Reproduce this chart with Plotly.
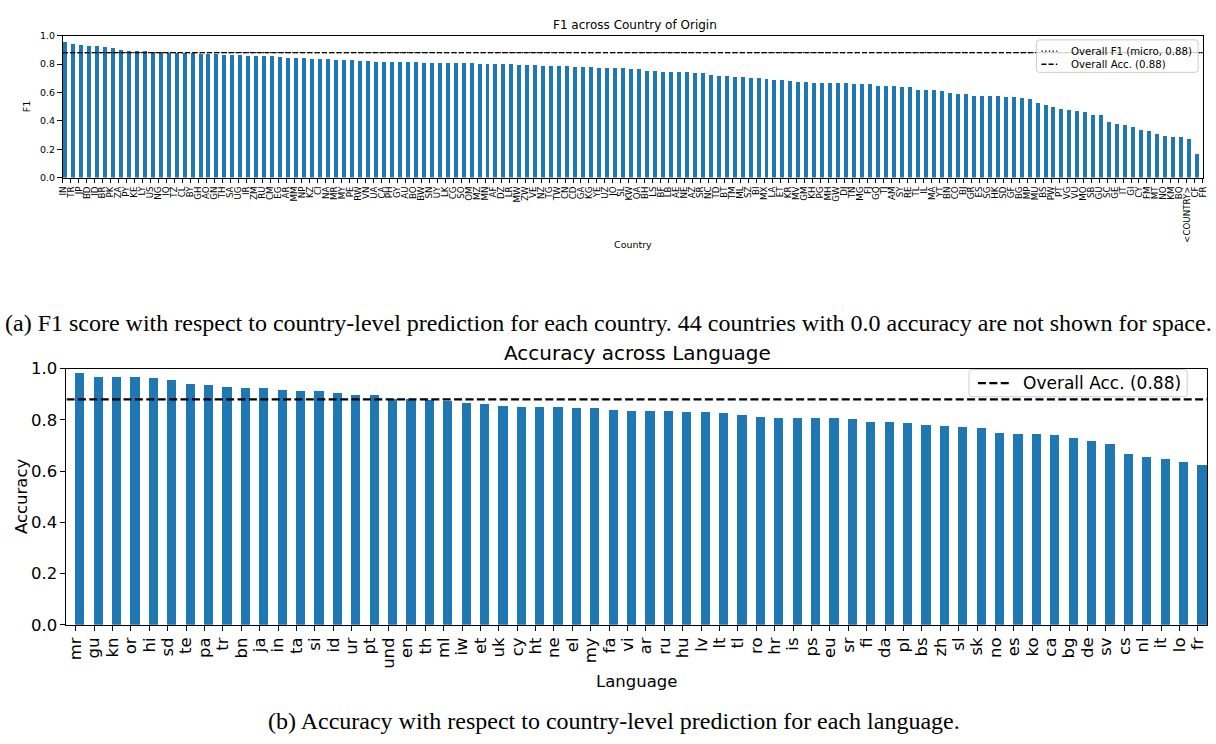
import plotly.graph_objects as go

# ---- F1 per country of origin (sorted, descending) ----
countries = [
    "IN", "TR", "JP", "BD", "ID", "BR", "PK", "ZA", "PY", "KE", "LY", "US", "NG", "IQ", "TZ", "CL",
    "BY", "GH", "AO", "GN", "TH", "SA", "UG", "IR", "ZM", "RU", "CM", "EG", "AR", "MM", "NP", "KZ",
    "CI", "NA", "MR", "MY", "PE", "RW", "VN", "UA", "CA", "PH", "GY", "AU", "BO", "BW", "SN", "UY",
    "LK", "CG", "SO", "OM", "MZ", "MN", "AF", "DZ", "LR", "MW", "ZW", "VE", "NZ", "TG", "TW", "CN",
    "CD", "GA", "KG", "YE", "UZ", "JO", "SL", "KW", "QA", "BH", "LS", "BF", "LB", "AE", "NE", "AZ",
    "SR", "NC", "TD", "BT", "TM", "ML", "SZ", "BI", "MX", "LA", "ET", "KR", "MV", "GM", "KH", "PG",
    "MH", "GW", "DJ", "TN", "MG", "FJ", "GQ", "TJ", "AM", "SY", "RE", "TL", "IL", "MA", "YT", "BN",
    "CO", "BJ", "GR", "ES", "SG", "HK", "SD", "GF", "BG", "MP", "MU", "BS", "PW", "PT", "VG", "VU",
    "MO", "SB", "GU", "SC", "GE", "IT", "GI", "CY", "FM", "MT", "NO", "KM", "BQ", "<COUNTRY>", "CF", "FR",
]
country_f1 = [
    0.956, 0.942, 0.940, 0.929, 0.928, 0.924, 0.919, 0.899, 0.894, 0.893, 0.893, 0.885, 0.884, 0.883, 0.883, 0.881,
    0.878, 0.876, 0.876, 0.872, 0.867, 0.866, 0.866, 0.862, 0.862, 0.860, 0.856, 0.855, 0.844, 0.842, 0.842, 0.840,
    0.835, 0.835, 0.833, 0.828, 0.828, 0.827, 0.821, 0.820, 0.817, 0.816, 0.815, 0.815, 0.814, 0.813, 0.810, 0.810,
    0.809, 0.808, 0.807, 0.807, 0.805, 0.805, 0.804, 0.803, 0.800, 0.797, 0.796, 0.794, 0.792, 0.790, 0.789, 0.787,
    0.785, 0.784, 0.780, 0.778, 0.776, 0.774, 0.773, 0.769, 0.768, 0.755, 0.750, 0.746, 0.744, 0.744, 0.743, 0.741,
    0.740, 0.723, 0.721, 0.720, 0.714, 0.712, 0.707, 0.705, 0.700, 0.693, 0.691, 0.684, 0.677, 0.677, 0.670, 0.668,
    0.668, 0.667, 0.667, 0.664, 0.663, 0.662, 0.647, 0.646, 0.645, 0.640, 0.639, 0.620, 0.619, 0.618, 0.615, 0.602,
    0.594, 0.593, 0.579, 0.576, 0.576, 0.574, 0.570, 0.567, 0.563, 0.558, 0.528, 0.514, 0.501, 0.485, 0.478, 0.474,
    0.465, 0.446, 0.442, 0.392, 0.377, 0.375, 0.361, 0.341, 0.334, 0.307, 0.295, 0.288, 0.288, 0.277, 0.169, 0.120,
]

# ---- Accuracy per language (sorted, descending) ----
languages = [
    "mr", "gu", "kn", "or", "hi", "sd", "te", "pa", "tr", "bn", "ja", "in", "ta", "si", "id", "ur",
    "pt", "und", "en", "th", "ml", "iw", "et", "uk", "cy", "ht", "ne", "el", "my", "fa", "vi", "ar",
    "ru", "hu", "lv", "lt", "tl", "ro", "hr", "is", "ps", "eu", "sr", "fi", "da", "pl", "bs", "zh",
    "sl", "sk", "no", "es", "ko", "ca", "bg", "de", "sv", "cs", "nl", "it", "lo", "fr",
]
language_acc = [
    0.985, 0.970, 0.970, 0.969, 0.966, 0.958, 0.943, 0.939, 0.928, 0.924, 0.924, 0.920, 0.916, 0.913, 0.905, 0.897,
    0.897, 0.882, 0.882, 0.878, 0.875, 0.867, 0.863, 0.855, 0.852, 0.852, 0.850, 0.848, 0.848, 0.840, 0.837, 0.835,
    0.835, 0.833, 0.831, 0.828, 0.820, 0.813, 0.810, 0.810, 0.808, 0.808, 0.805, 0.795, 0.792, 0.791, 0.780, 0.777,
    0.774, 0.770, 0.750, 0.746, 0.746, 0.742, 0.730, 0.718, 0.707, 0.670, 0.657, 0.650, 0.638, 0.625,
]

overall_f1_micro = 0.88
overall_acc = 0.88
y_ticks = [0.0, 0.2, 0.4, 0.6, 0.8, 1.0]

W, H = 1216, 744
BLUE = "#1f77b4"
DOT = "1.4px,2.3px"
DASH_SMALL = "5px,2.2px"
DASH_LARGE = "8px,3.4px"


def px_x(p):
    return p / W


def px_y(p):
    return 1 - p / H


def esc(s):
    return s.replace("<", "&lt;").replace(">", "&gt;")


fig = go.Figure()

# ---------- top panel ----------
cx = list(range(len(countries)))
top_range = [0, len(countries) - 1]
fig.add_trace(go.Bar(
    x=cx, y=country_f1, width=0.5, offset=0, marker=dict(color=BLUE, line=dict(width=0)),
    xaxis="x", yaxis="y", showlegend=False,
))
fig.add_trace(go.Scatter(
    x=top_range, y=[overall_f1_micro] * 2, mode="lines", xaxis="x", yaxis="y",
    line=dict(color="black", width=1.3, dash=DOT), showlegend=False,
))
fig.add_trace(go.Scatter(
    x=top_range, y=[overall_acc] * 2, mode="lines", xaxis="x", yaxis="y",
    line=dict(color="black", width=1.3, dash=DASH_SMALL), showlegend=False,
))

# ---------- bottom panel ----------
lx = list(range(len(languages)))
bot_range = [-0.5, len(languages) - 0.5]
fig.add_trace(go.Bar(
    x=lx, y=language_acc, width=0.5, offset=0, marker=dict(color=BLUE, line=dict(width=0)),
    xaxis="x2", yaxis="y2", showlegend=False,
))
fig.add_trace(go.Scatter(
    x=bot_range, y=[overall_acc] * 2, mode="lines", xaxis="x2", yaxis="y2",
    line=dict(color="black", width=2.2, dash=DASH_LARGE), showlegend=False,
))

axis_common = dict(showline=True, linecolor="black", mirror=True, showgrid=False, zeroline=False,
                   ticks="outside", tickcolor="black")

fig.update_layout(
    width=W, height=H, autosize=False,
    margin=dict(l=0, r=0, t=0, b=0),
    paper_bgcolor="white", plot_bgcolor="white",
    font=dict(family="DejaVu Sans", color="black"),
    bargap=0, showlegend=False,
    xaxis=dict(
        **axis_common, domain=[px_x(58.3), px_x(1207.7)], range=top_range,
        tickmode="array", tickvals=cx, ticktext=[esc(c) for c in countries],
        tickangle=-90, tickfont=dict(size=8.7), ticklen=4.5, tickwidth=0.8, linewidth=0.8,
        anchor="y",
    ),
    yaxis=dict(
        **axis_common, domain=[px_y(173), px_y(27.3)], range=[0, 1],
        tickmode="array", tickvals=y_ticks, tickformat=".1f",
        tickfont=dict(size=9.5), ticklen=4.9, tickwidth=0.8, linewidth=0.8, anchor="x",
    ),
    xaxis2=dict(
        **axis_common, domain=[px_x(62), px_x(1212)], range=bot_range,
        tickmode="array", tickvals=lx, ticktext=languages,
        tickangle=-90, tickfont=dict(size=16.5), ticklen=5, tickwidth=1, linewidth=1,
        anchor="y2",
    ),
    yaxis2=dict(
        **axis_common, domain=[px_y(632), px_y(369)], range=[0, 1],
        tickmode="array", tickvals=y_ticks, tickformat=".1f",
        tickfont=dict(size=16.5), ticklen=5, tickwidth=1, linewidth=1, anchor="x2",
    ),
)


def rounded_box(x0, y0, x1, y1, r):
    X0, X1 = px_x(x0), px_x(x1)
    Y0, Y1 = px_y(y0), px_y(y1)
    rx, ry = r / W, r / H
    return (f"M {X0 + rx} {Y0} L {X1 - rx} {Y0} Q {X1} {Y0} {X1} {Y0 - ry} "
            f"L {X1} {Y1 + ry} Q {X1} {Y1} {X1 - rx} {Y1} "
            f"L {X0 + rx} {Y1} Q {X0} {Y1} {X0} {Y1 + ry} "
            f"L {X0} {Y0 - ry} Q {X0} {Y0} {X0 + rx} {Y0} Z")


def legend_block(box, entries, font_size, line_width):
    x0, y0, x1, y1 = box
    fig.add_shape(type="path", path=rounded_box(x0, y0, x1, y1, 3), xref="paper", yref="paper",
                  fillcolor="rgba(255,255,255,0.8)", line=dict(color="#cccccc", width=1))
    for (lx0, lx1, ly, tx, label, dash) in entries:
        fig.add_shape(type="line", xref="paper", yref="paper",
                      x0=px_x(lx0), x1=px_x(lx1), y0=px_y(ly), y1=px_y(ly),
                      line=dict(color="black", width=line_width, dash=dash))
        fig.add_annotation(text=label, x=px_x(tx), y=px_y(ly), xref="paper", yref="paper",
                           xanchor="left", yanchor="middle", showarrow=False,
                           font=dict(size=font_size, family="DejaVu Sans", color="black"))


legend_block(
    (1040, 31.7, 1203, 65),
    [(1045, 1061, 43.3, 1073, "Overall F1 (micro, 0.88)", DOT),
     (1045, 1061, 56.7, 1073, "Overall Acc. (0.88)", DASH_SMALL)],
    10.2, 1.3,
)
legend_block(
    (972, 370, 1192, 398),
    [(981, 1014, 384, 1024, "Overall Acc. (0.88)", DASH_LARGE)],
    17, 2.2,
)

annotations = [
    dict(text="F1 across Country of Origin", x=px_x(635), y=px_y(16), size=12),
    dict(text="F1", x=px_x(22), y=px_y(100), size=9.5, angle=-90),
    dict(text="Country", x=px_x(633), y=px_y(242), size=9.5),
    dict(text="Accuracy across Language", x=px_x(638), y=px_y(353), size=20),
    dict(text="Accuracy", x=px_x(16), y=px_y(500), size=16.5, angle=-90),
    dict(text="Language", x=px_x(637), y=px_y(690), size=16.5),
]
for a in annotations:
    fig.add_annotation(
        text=a["text"], x=a["x"], y=a["y"], xref="paper", yref="paper",
        xanchor="center", yanchor="middle", showarrow=False, textangle=a.get("angle", 0),
        font=dict(size=a["size"], family="DejaVu Sans", color="black"),
    )

captions = [
    ("(a) F1 score with respect to country-level prediction for each country. "
     "44 countries with 0.0 accuracy are not shown for space.", 608, 322),
    ("(b) Accuracy with respect to country-level prediction for each language.", 614, 731),
]
for text, x, y in captions:
    fig.add_annotation(
        text=text, x=px_x(x), y=px_y(y), xref="paper", yref="paper",
        xanchor="center", yanchor="middle", showarrow=False,
        font=dict(size=24, family="Liberation Serif", color="black"),
    )

fig.write_html("out.html")
